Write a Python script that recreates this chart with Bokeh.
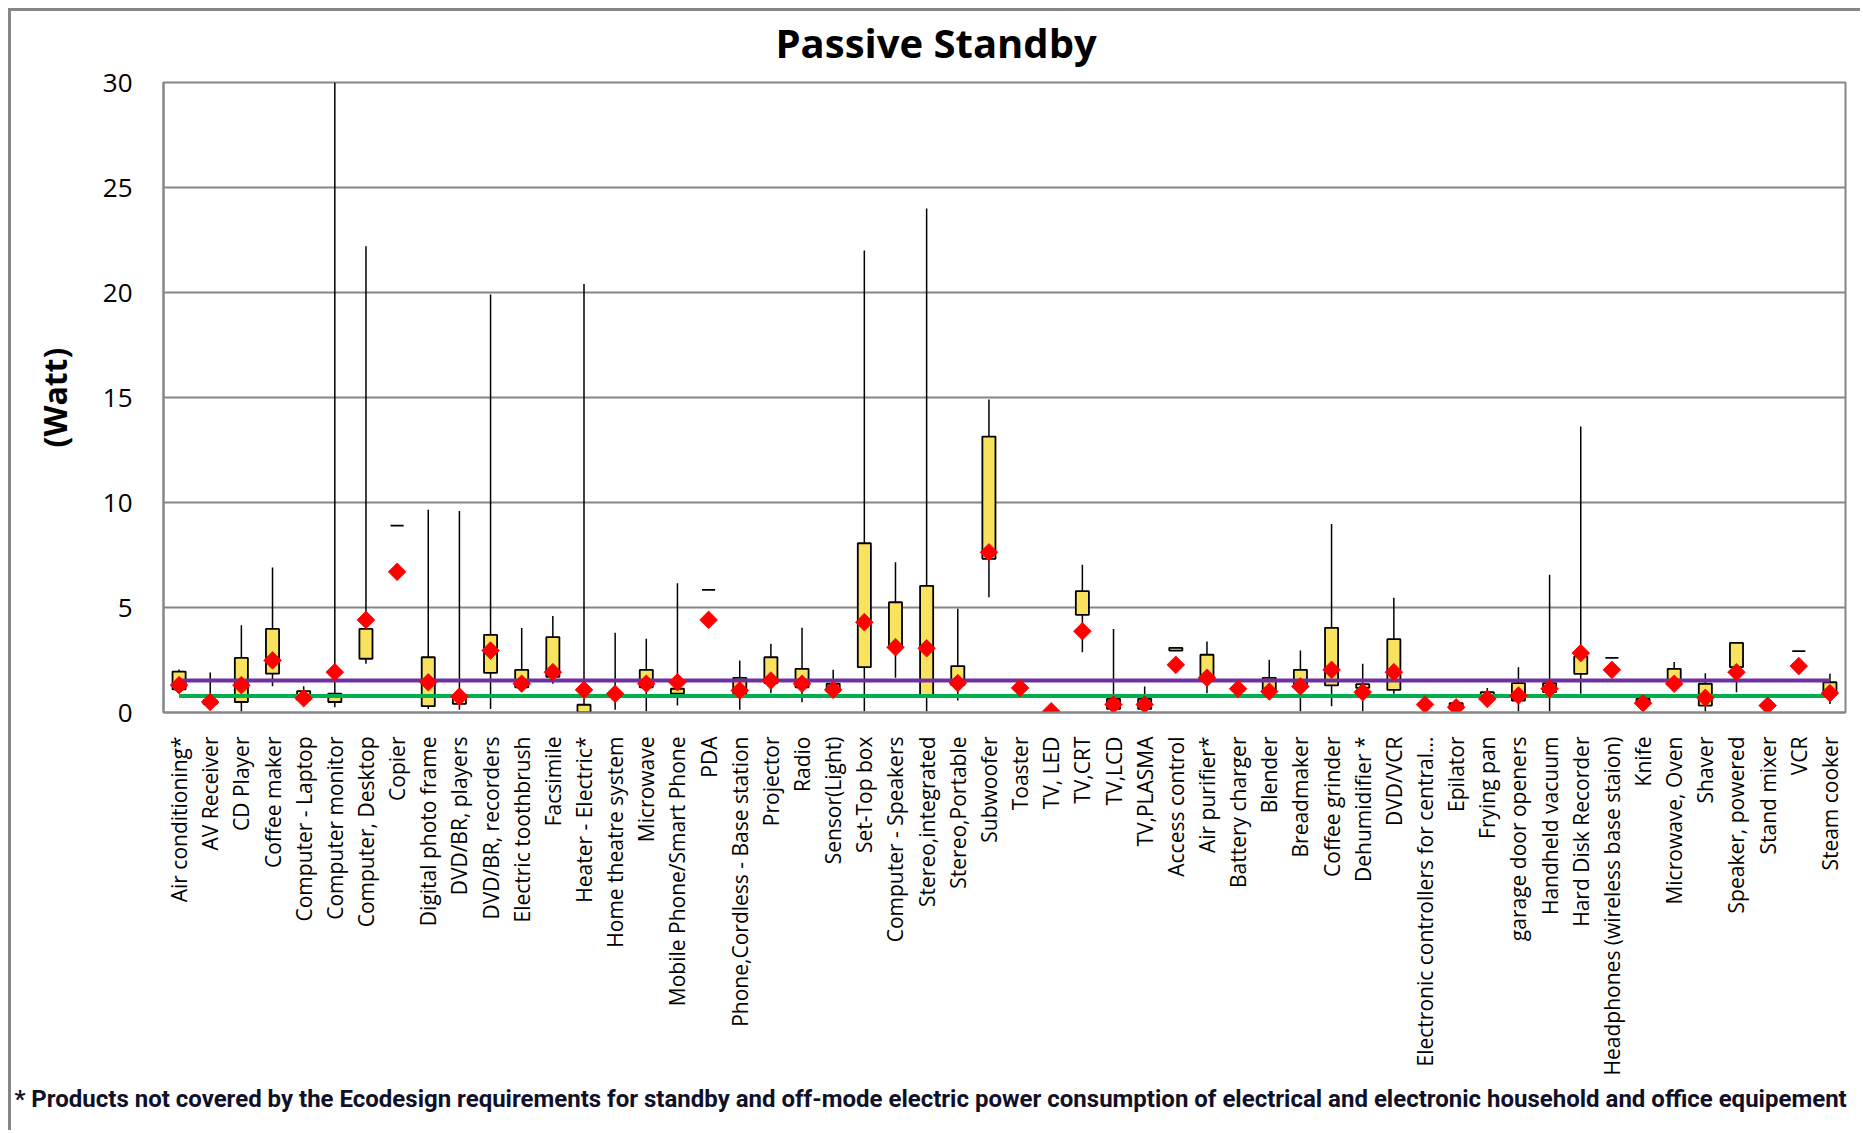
import math
from bokeh.plotting import figure
from bokeh.models import Range1d, FactorRange, ColumnDataSource, FixedTicker, Title
from bokeh.embed import file_html
from bokeh.resources import INLINE

nan = float("nan")

categories = [
    "Air conditioning*", "AV Receiver", "CD Player", "Coffee maker", "Computer - Laptop",
    "Computer monitor", "Computer, Desktop", "Copier", "Digital photo frame", "DVD/BR, players",
    "DVD/BR, recorders", "Electric toothbrush", "Facsimile", "Heater - Electric*",
    "Home theatre system", "Microwave", "Mobile Phone/Smart Phone", "PDA",
    "Phone,Cordless - Base station", "Projector", "Radio", "Sensor(Light)", "Set-Top box",
    "Computer - Speakers", "Stereo,integrated", "Stereo,Portable", "Subwoofer", "Toaster",
    "TV, LED", "TV,CRT", "TV,LCD", "TV,PLASMA", "Access control", "Air purifier*",
    "Battery charger", "Blender", "Breadmaker", "Coffee grinder", "Dehumidifier *", "DVD/VCR",
    "Electronic controllers for central...", "Epilator", "Frying pan", "garage door openers",
    "Handheld vacuum", "Hard Disk Recorder", "Headphones (wireless base staion)", "Knife",
    "Microwave, Oven", "Shaver", "Speaker, powered", "Stand mixer", "VCR", "Steam cooker",
]

q1 = [1.10, 0.40, 0.50, 1.85, 0.60, 0.50, 2.56, 8.90, 0.30, 0.41,
      1.89, 1.20, 1.70, 0.00, nan, 1.20, 0.90, 5.84, 0.90, 1.40,
      1.20, 1.00, 2.16, 3.11, 0.80, 1.30, 7.32, nan, nan, 4.65,
      0.17, 0.17, 2.95, 1.50, nan, 1.05, 1.30, 1.29, 1.17, 1.08,
      nan, 0.17, 0.73, 0.57, 0.97, 1.84, 2.60, 0.49, 1.30, 0.33,
      2.16, nan, 2.92, 0.89]
q3 = [1.95, 0.60, 2.60, 3.98, 1.02, 0.90, 3.98, 8.90, 2.63, 0.80,
      3.70, 2.03, 3.59, 0.37, nan, 2.03, 1.13, 5.84, 1.65, 2.63,
      2.08, 1.37, 8.06, 5.25, 6.03, 2.21, 13.14, nan, nan, 5.78,
      0.65, 0.65, 3.08, 2.75, nan, 1.65, 2.03, 4.03, 1.35, 3.49,
      nan, 0.44, 0.97, 1.40, 1.40, 2.67, 2.60, 0.65, 2.08, 1.37,
      3.32, nan, 2.92, 1.44]
whisker_low = [1.05, 0.15, 0.05, 1.25, 0.40, 0.25, 2.32, nan, 0.17, 0.13,
               0.17, 1.05, 1.37, 0.00, 0.13, 0.06, 0.33, nan, 0.13, 0.92,
               0.49, 0.89, 0.06, 1.65, 0.06, 0.57, 5.49, nan, nan, 2.87,
               0.00, 0.10, nan, 0.92, nan, 0.62, 0.06, 0.30, 0.06, 0.89,
               nan, nan, 0.73, 0.06, 0.06, 0.89, nan, nan, 1.05, 0.06,
               0.97, nan, nan, 0.41]
whisker_high = [2.05, 1.90, 4.15, 6.90, 1.25, 30.0, 22.2, nan, 9.65, 9.60,
                19.9, 4.02, 4.59, 20.4, 3.80, 3.51, 6.16, nan, 2.48, 3.27,
                4.03, 2.03, 22.0, 7.16, 24.0, 4.94, 14.9, nan, nan, 7.03,
                3.98, 1.24, nan, 3.38, nan, 2.51, 2.95, 8.98, 2.32, 5.46,
                nan, nan, 1.17, 2.16, 6.56, 13.62, nan, nan, 2.40, 1.87,
                3.32, nan, nan, 1.84]
mean = [1.30, 0.50, 1.30, 2.48, 0.68, 1.92, 4.41, 6.70, 1.44, 0.76,
        2.95, 1.37, 1.92, 1.08, 0.89, 1.37, 1.44, 4.41, 1.05, 1.52,
        1.37, 1.08, 4.30, 3.11, 3.06, 1.40, 7.63, 1.17, 0.06, 3.87,
        0.38, 0.38, 2.27, 1.65, 1.13, 1.00, 1.24, 2.03, 0.97, 1.92,
        0.38, 0.25, 0.65, 0.81, 1.13, 2.83, 2.03, 0.44, 1.37, 0.70,
        1.92, 0.33, 2.21, 0.92]

limit_purple = 1.52
limit_green = 0.79
y_ticks = [0, 5, 10, 15, 20, 25, 30]

title_text = "Passive Standby"
y_label = "(Watt)"
footnote = ("* Products not covered by the Ecodesign requirements for standby and off-mode electric "
            "power consumption of electrical  and electronic household and office equipement")

src = ColumnDataSource(dict(cat=categories, q1=q1, q3=q3, lo=whisker_low, hi=whisker_high, mean=mean))

GRID = "#868686"

p = figure(width=1860, height=1130,
           x_range=FactorRange(factors=categories, range_padding=0),
           y_range=Range1d(0, 30),
           output_backend="svg", toolbar_location=None,
           min_border_left=163, min_border_right=15, min_border_top=82, min_border_bottom=418)
p.border_fill_color = None
p.background_fill_color = "white"
p.styles = {
    "background": ("linear-gradient(#868686, #868686) 8px 8px / calc(100% - 8px) 3px no-repeat, "
                   "linear-gradient(#868686, #868686) 8px 8px / 3px calc(100% - 8px) no-repeat, white"),
}

p.title = Title(text=title_text, align="left", offset=612, vertical_align="bottom", standoff=25,
                text_font="Open Sans", text_font_style="bold", text_font_size="40px",
                text_color="black")

p.segment(x0="cat", y0="lo", x1="cat", y1="hi", source=src, line_color="black", line_width=1.5)
p.vbar(x="cat", top="q3", bottom="q1", width=0.42, source=src,
       fill_color="#F9E25E", line_color="black", line_width=1.8)
p.line(x=[categories[0], categories[-1]], y=[limit_purple, limit_purple], line_color="#7030A0", line_width=4)
p.line(x=[categories[0], categories[-1]], y=[limit_green, limit_green], line_color="#00B050", line_width=4)
p.scatter(x="cat", y="mean", source=src, marker="square", angle=math.pi / 4, size=12.5,
          fill_color="#FF0000", line_color="#FF0000", line_width=0.8)

p.xgrid.grid_line_color = None
p.ygrid.ticker = FixedTicker(ticks=y_ticks)
p.ygrid.grid_line_color = GRID
p.ygrid.grid_line_width = 2
p.outline_line_color = GRID
p.outline_line_width = 2

p.yaxis.ticker = FixedTicker(ticks=y_ticks)
p.yaxis.axis_line_color = GRID
p.yaxis.axis_line_width = 2
p.yaxis.major_tick_line_color = None
p.yaxis.minor_tick_line_color = None
p.yaxis.major_label_standoff = 25
p.yaxis.major_label_text_font = "Open Sans"
p.yaxis.major_label_text_font_size = "26px"
p.yaxis.major_label_text_color = "black"
p.yaxis.axis_label = y_label
p.yaxis.axis_label_text_font = "Open Sans"
p.yaxis.axis_label_text_font_style = "bold"
p.yaxis.axis_label_text_font_size = "32px"
p.yaxis.axis_label_text_color = "black"
p.yaxis.axis_label_standoff = 24

p.xaxis.axis_line_color = GRID
p.xaxis.axis_line_width = 2
p.xaxis.major_tick_line_color = None
p.xaxis.minor_tick_line_color = None
p.xaxis.major_label_orientation = math.pi / 2
p.xaxis.major_label_standoff = 18
p.xaxis.major_label_text_font = "Open Sans"
p.xaxis.major_label_text_font_size = "21px"
p.xaxis.major_label_text_color = "black"

p.add_layout(Title(text=footnote, align="left", offset=-149, vertical_align="middle", standoff=10,
                   text_font="Roboto", text_font_style="bold",
                   text_font_size="24px", text_color="#101028"), "below")

open("out.html", "w").write(file_html(p, INLINE))
